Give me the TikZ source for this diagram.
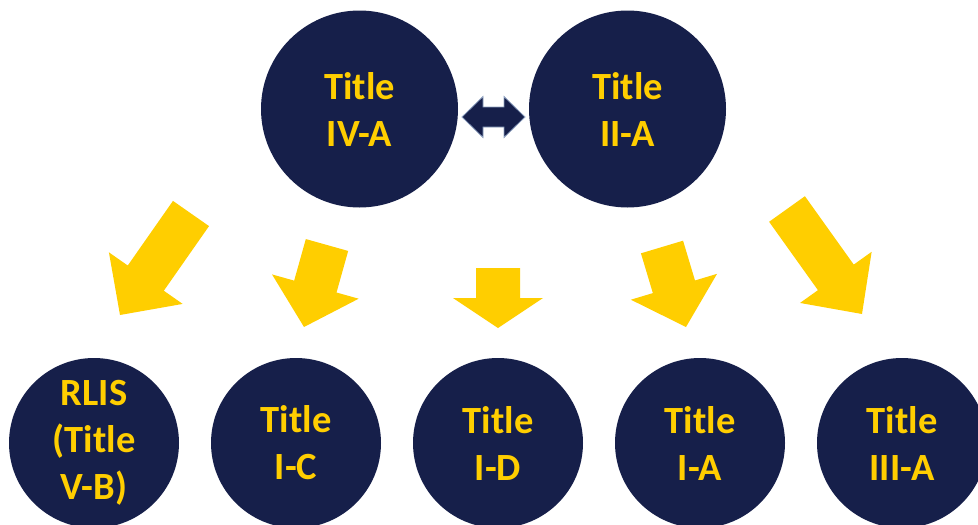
\documentclass[tikz,border=0pt]{standalone}
\usepackage{fontspec}
\setmainfont{Carlito}
\usetikzlibrary{calc}
\definecolor{navy}{HTML}{161F4A}
\definecolor{gold}{HTML}{FFCE00}
\definecolor{rim}{HTML}{8FA2C2}
\tikzset{
  bubble/.style={circle, fill=navy, inner sep=0pt, text=gold, align=center,
    font=\bfseries\fontsize{38.5}{47}\selectfont},
  bigbubble/.style={bubble, minimum size=197pt},
  smallbubble/.style={bubble, minimum size=170pt},
  arrowfill/.style={fill=gold},
  linkarrow/.style={fill=navy, draw=rim, line width=0.8pt, line join=miter}
}
% block arrow: tail centre, tip, half shaft width, half head width, head length (all in pt)
\newcommand\blockarrow[5]{%
  \coordinate (neck) at ($(#2)!#5pt!(#1)$);
  \fill[arrowfill]
    ($(#1)!#3pt!90:(#2)$) -- ($(neck)!#3pt!90:(#2)$) -- ($(neck)!#4pt!90:(#2)$) --
    (#2) --
    ($(neck)!#4pt!-90:(#2)$) -- ($(neck)!#3pt!-90:(#2)$) -- ($(#1)!#3pt!-90:(#2)$) -- cycle;
}
\begin{document}
\begin{tikzpicture}[x=1pt, y=-1pt]
  \useasboundingbox (0,0) rectangle (978,525);
  \clip (0,0) rectangle (978,525);

  % upper pair
  \node[bigbubble] (t4a) at (359.5,109) {Title\\IV-A};
  \node[bigbubble] (t2a) at (627.5,109) {Title\\II-A};

  % two-way link between the upper pair
  \coordinate (ll) at (462,117);
  \coordinate (rr) at (525,117);
  \path[linkarrow] (ll) -- ++(21,-20.5) -- ++(0,10.5) -- ++(21,0) -- ++(0,-10.5)
    -- (rr) -- ++(-21,20.5) -- ++(0,-10.5) -- ++(-21,0) -- ++(0,10.5) -- cycle;

  % lower row
  \node[smallbubble] (rlis) at (94,443) {RLIS\\(Title\\V-B)};
  \node[smallbubble] (t1c) at (296,443) {Title\\I-C};
  \node[smallbubble] (t1d) at (498,443) {Title\\I-D};
  \node[smallbubble] (t1a) at (700,443) {Title\\I-A};
  \node[smallbubble] (t3a) at (902,443) {Title\\III-A};

  % yellow block arrows
  \coordinate (s1) at (191,213.5); \coordinate (e1) at (120,315);
  \coordinate (s2) at (327,245);   \coordinate (e2) at (304,327);
  \coordinate (s3) at (498,268);   \coordinate (e3) at (498,328);
  \coordinate (s4) at (662,247);   \coordinate (e4) at (686,327);
  \coordinate (s5) at (787,209);   \coordinate (e5) at (862,314);
  \blockarrow{s1}{e1}{22}{45}{45}
  \blockarrow{s2}{e2}{22}{45}{42}
  \blockarrow{s3}{e3}{22}{45}{30}
  \blockarrow{s4}{e4}{22}{45}{42}
  \blockarrow{s5}{e5}{22}{44}{45}
\end{tikzpicture}
\end{document}
